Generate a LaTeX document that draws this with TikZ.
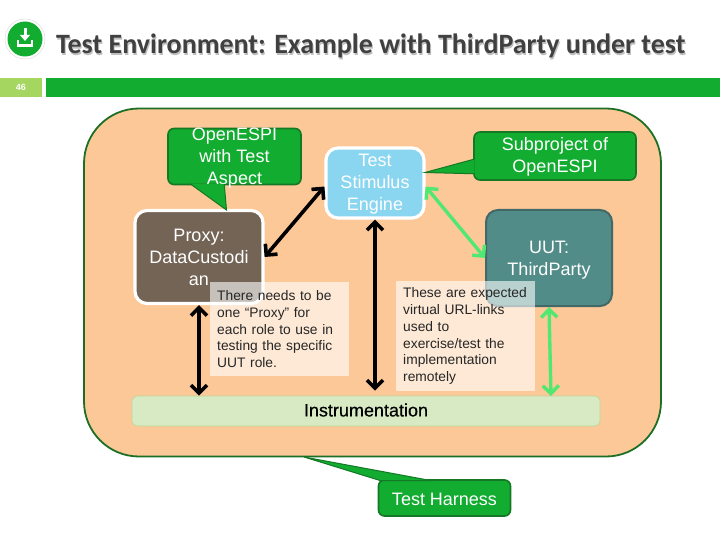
\documentclass[tikz,border=0pt]{standalone}
\usepackage{fontspec}
\setmainfont{Liberation Sans}
\newfontfamily\titlefont{Carlito}
\newfontfamily\heavyfont[FakeBold=0.5]{Liberation Sans}
\usetikzlibrary{arrows.meta, calc, positioning}
\definecolor{framegreen}{RGB}{28,112,36}
\definecolor{peach}{RGB}{252,200,152}
\definecolor{calloutgreen}{RGB}{18,172,48}
\definecolor{calloutedge}{RGB}{20,120,36}
\definecolor{skyblue}{RGB}{138,214,240}
\definecolor{proxybrown}{RGB}{116,100,86}
\definecolor{uutteal}{RGB}{82,140,136}
\definecolor{uutedge}{RGB}{66,104,104}
\definecolor{instrgreen}{RGB}{216,234,196}
\definecolor{instredge}{RGB}{190,216,150}
\definecolor{brightgreen}{RGB}{80,232,112}
\definecolor{titlegrey}{RGB}{64,64,64}
\definecolor{pagegreen}{RGB}{164,214,96}

\begin{document}
\begin{tikzpicture}[x=1pt, y=-1pt,
	callout/.style={draw=calloutedge, line width=1.6pt, fill=calloutgreen, rounded corners=6pt, text=white, align=center, font=\fontsize{18}{22}\selectfont, inner sep=0pt},
	tail/.style={fill=calloutgreen, draw=calloutedge, line width=1pt, line join=miter},
	whitebox/.style={draw=white, line width=3.2pt, rounded corners=12pt, text=white, align=center, font=\fontsize{18}{22}\selectfont, inner sep=0pt},
	threelines/.style={text height=56pt, text depth=0pt},
	twolines/.style={text height=34pt, text depth=0pt},
	note/.style={fill=white, fill opacity=0.6, text opacity=1, text=black!85, align=left, anchor=north west, text width=125pt, font=\fontsize{13.8}{16.8}\selectfont, inner xsep=7pt, inner ysep=0pt},
	blackarrow/.style={{Straight Barb[length=8pt,width=16pt]}-{Straight Barb[length=8pt,width=16pt]}, line width=3.6pt, black},
	greenarrow/.style={{Straight Barb[length=8pt,width=16pt]}-{Straight Barb[length=8pt,width=16pt]}, line width=3.4pt, brightgreen}]
	\useasboundingbox (0,0) rectangle (720,540);

	% header
	\node[circle, fill=white, draw=black!15, minimum size=40pt, inner sep=0pt] (logoring) at (25,39) {};
	\node[circle, fill=calloutgreen, minimum size=35pt, inner sep=0pt] (logo) at (25,39) {};
	\draw[white, line width=2.2pt] (18,40) -- (18,45.5) -- (32,45.5) -- (32,40);
	\draw[white, line width=3pt] (25,28) -- (25,37);
	\fill[white] (20,35) -- (30,35) -- (25,41) -- cycle;
	\node[anchor=west, text=black!25, font=\titlefont\bfseries\fontsize{28}{30}\selectfont, inner sep=0pt] (titleshadow) at (57,47.5) {Test Environment: Example with ThirdParty under test};
	\node[anchor=west, text=titlegrey, font=\titlefont\bfseries\fontsize{28}{30}\selectfont, inner sep=0pt] (title) at (56,46) {Test Environment: Example with ThirdParty under test};
	\node[fill=pagegreen, minimum width=42pt, minimum height=19pt, inner sep=0pt, text=white, font=\fontsize{9}{10}\selectfont\bfseries] (pagenum) at (21,87.5) {46};
	\node[fill=calloutgreen, minimum width=675pt, minimum height=19pt, inner sep=0pt] (bar) at (383.5,87.5) {};

	% big frame
	\node[draw=framegreen, line width=1.8pt, fill=peach, rounded corners=55pt, minimum width=577pt, minimum height=348pt, inner sep=0pt] (frame) at (372.5,282.5) {};

	% callouts
	\node[callout, threelines, minimum width=133pt, minimum height=49pt] (openespi) at (234.5,156.5) {OpenESPI\\with Test\\Aspect};
	\node[callout, twolines, minimum width=162pt, minimum height=48pt] (subproject) at (555,156) {Subproject of\\OpenESPI};
	\coordinate (openespitip) at (226.5,210);
	\coordinate (subprojecttip) at (425,172.5);
	\coordinate (harnesstip) at (304,457);
	\coordinate (uutend) at (551,396);

	\node[whitebox, threelines, fill=skyblue, minimum width=98pt, minimum height=70pt] (stimulus) at (375,183) {Test\\Stimulus\\Engine};
	\node[whitebox, threelines, fill=proxybrown, minimum width=128pt, minimum height=93pt] (proxy) at (199,257) {Proxy:\\DataCustodi\\an};
	\node[whitebox, twolines, draw=uutedge, line width=2pt, fill=uutteal, minimum width=126pt, minimum height=96pt] (uut) at (549,258) {UUT:\\ThirdParty};
	\node[draw=instredge, line width=0.7pt, fill=instrgreen, rounded corners=5pt, minimum width=468pt, minimum height=30pt, inner sep=0pt] (instr) at (366,411) {};
	\node[font=\heavyfont\fontsize{18}{20}\selectfont, inner sep=0pt] (instrlabel) at (366,410) {Instrumentation};
	\node[callout, text height=15pt, minimum width=132pt, minimum height=36pt] (harness) at (444.5,498) {Test Harness};

	% callout tails
	\fill[tail] ($(openespi.south west)+(23,-1.5)$) -- (openespitip) -- ($(openespi.south west)+(57,-1.5)$);
	\fill[tail] ($(subproject.west)+(1.5,3)$) -- (subprojecttip) -- ($(subproject.south west)+(1.5,-7)$);
	\fill[tail] (harnesstip) -- ($(harness.north west)+(3,1.5)$) -- ($(harness.north west)+(54,1.5)$) -- cycle;

	% arrows
	\draw[blackarrow] (stimulus.184) -- (proxy.east);
	\draw[blackarrow, shorten >=5pt] (stimulus.south) -- (stimulus.south |- instr.north);
	\draw[blackarrow] (proxy.south) -- (proxy.south |- instr.north);
	\draw[greenarrow] (stimulus.-4) -- (uut.west);
	\draw[greenarrow] (uut.south) -- (uutend);

	% notes
	\node[note, minimum height=94pt] (proxynote) at (210,282) {There needs to be\\one “Proxy” for\\each role to use in\\testing the specific\\UUT role.};
	\node[note, minimum height=110pt] (uutnote) at (396,281) {These are expected\\virtual URL-links\\used to\\exercise/test the\\implementation\\remotely};
\end{tikzpicture}
\end{document}
